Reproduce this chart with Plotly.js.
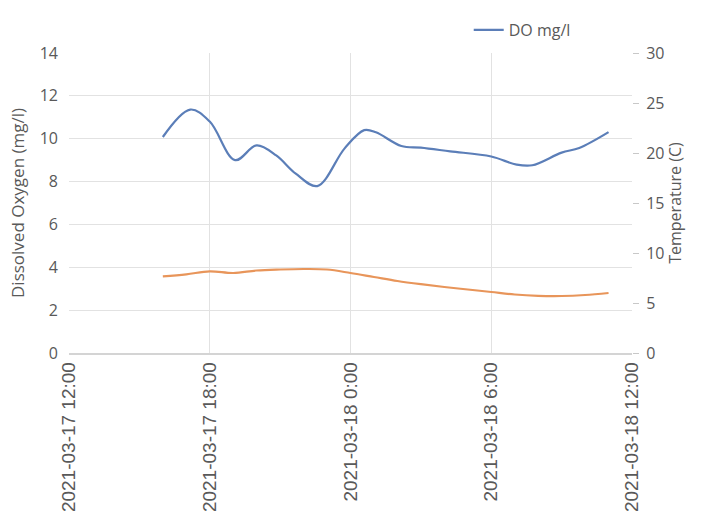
<!DOCTYPE html>
<html>
<head>
<meta charset="utf-8">
<script src="https://cdn.plot.ly/plotly-3.0.1.min.js"></script>
<style>
  html, body { margin: 0; padding: 0; background: #fff; }
  #chart { width: 702px; height: 519px; }
</style>
</head>
<body>
<div id="chart"></div>
<script>
// Dissolved oxygen (mg/l), left axis
const doTimes = [
  "2021-03-17 16:00", "2021-03-17 17:10", "2021-03-17 18:00", "2021-03-17 19:05",
  "2021-03-17 20:00", "2021-03-17 20:50", "2021-03-17 21:40", "2021-03-17 22:35",
  "2021-03-17 23:45", "2021-03-18 00:35", "2021-03-18 01:05",
  "2021-03-18 02:10", "2021-03-18 03:00", "2021-03-18 04:15", "2021-03-18 06:00",
  "2021-03-18 07:05", "2021-03-18 07:45", "2021-03-18 09:00", "2021-03-18 09:45",
  "2021-03-18 11:00"
];
const doValues = [
  10.08, 11.36, 10.8, 9.0,
  9.69, 9.22, 8.37, 7.79,
  9.55, 10.4, 10.3,
  9.66, 9.58, 9.41, 9.17,
  8.79, 8.76, 9.35, 9.57,
  10.31
];

// Temperature (C), right axis
const tempTimes = [
  "2021-03-17 16:00", "2021-03-17 17:00", "2021-03-17 18:00", "2021-03-17 19:00",
  "2021-03-17 20:00", "2021-03-17 21:00", "2021-03-17 22:00", "2021-03-17 23:00",
  "2021-03-18 00:00", "2021-03-18 01:00", "2021-03-18 02:00", "2021-03-18 03:00",
  "2021-03-18 04:00", "2021-03-18 05:00", "2021-03-18 06:00", "2021-03-18 07:00",
  "2021-03-18 08:00", "2021-03-18 09:00", "2021-03-18 10:00", "2021-03-18 11:00"
];
const tempValues = [
  7.67, 7.87, 8.17, 8.0,
  8.25, 8.35, 8.4, 8.35,
  8.0, 7.6, 7.2, 6.88,
  6.6, 6.35, 6.1, 5.85,
  5.72, 5.7, 5.8, 6.0
];

const xRange = ["2021-03-17 12:00", "2021-03-18 12:00"];
const leftTitle = "Dissolved Oxygen (mg/l)";
const rightTitle = "Temperature (C)";
const doName = "DO mg/l";

const grey = "#595959";
const gridCol = "#E2E2E2";
const yFont = { family: "Open Sans, Noto Sans, sans-serif", size: 16, color: grey };
const titleFont = { family: "Open Sans, Noto Sans, sans-serif", size: 17, color: grey };

const traces = [
  {
    x: doTimes, y: doValues, name: doName, type: "scatter", mode: "lines",
    line: { color: "#5B7EB8", width: 2.2, shape: "spline", smoothing: 1 },
    yaxis: "y", showlegend: true
  },
  {
    x: tempTimes, y: tempValues, name: "Temperature", type: "scatter", mode: "lines",
    line: { color: "#E8955A", width: 2.2, shape: "spline", smoothing: 1 },
    yaxis: "y2", showlegend: false
  }
];

const layout = {
  width: 702, height: 519,
  margin: { l: 69, r: 70, t: 53, b: 166 },
  paper_bgcolor: "#fff", plot_bgcolor: "#fff",
  font: yFont,
  xaxis: {
    type: "date", range: xRange, dtick: 6 * 3600 * 1000,
    tick0: "2021-03-17 12:00",
    tickformat: "%Y-%m-%d %-H:%M", tickangle: -90,
    tickfont: { family: "Liberation Sans, Arial, sans-serif", size: 19, color: grey },
    showgrid: true, gridcolor: gridCol, gridwidth: 1,
    showline: true, linecolor: "#D4D4D4", linewidth: 1.5,
    ticks: "", zeroline: false, fixedrange: true
  },
  yaxis: {
    range: [0, 14], dtick: 2, tick0: 0,
    showgrid: true, gridcolor: gridCol, gridwidth: 1,
    zeroline: false, showline: false, ticks: "",
    ticklabelstandoff: 10,
    tickfont: yFont,
    title: { text: leftTitle, font: titleFont, standoff: 10 }
  },
  yaxis2: {
    range: [0, 30], dtick: 5, tick0: 0,
    overlaying: "y", side: "right",
    showgrid: false, zeroline: false,
    showline: false, ticks: "outside", ticklen: 6, tickcolor: "#C8C8C8",
    ticklabelstandoff: 4,
    tickfont: yFont,
    title: { text: rightTitle, font: yFont, standoff: 6 }
  },
  legend: {
    orientation: "h", x: 0.71, y: 1.077, xanchor: "left", yanchor: "middle",
    font: yFont, itemwidth: 30, bgcolor: "rgba(0,0,0,0)"
  },
  showlegend: true
};

Plotly.newPlot("chart", traces, layout, { displayModeBar: false, staticPlot: true });
</script>
</body>
</html>
